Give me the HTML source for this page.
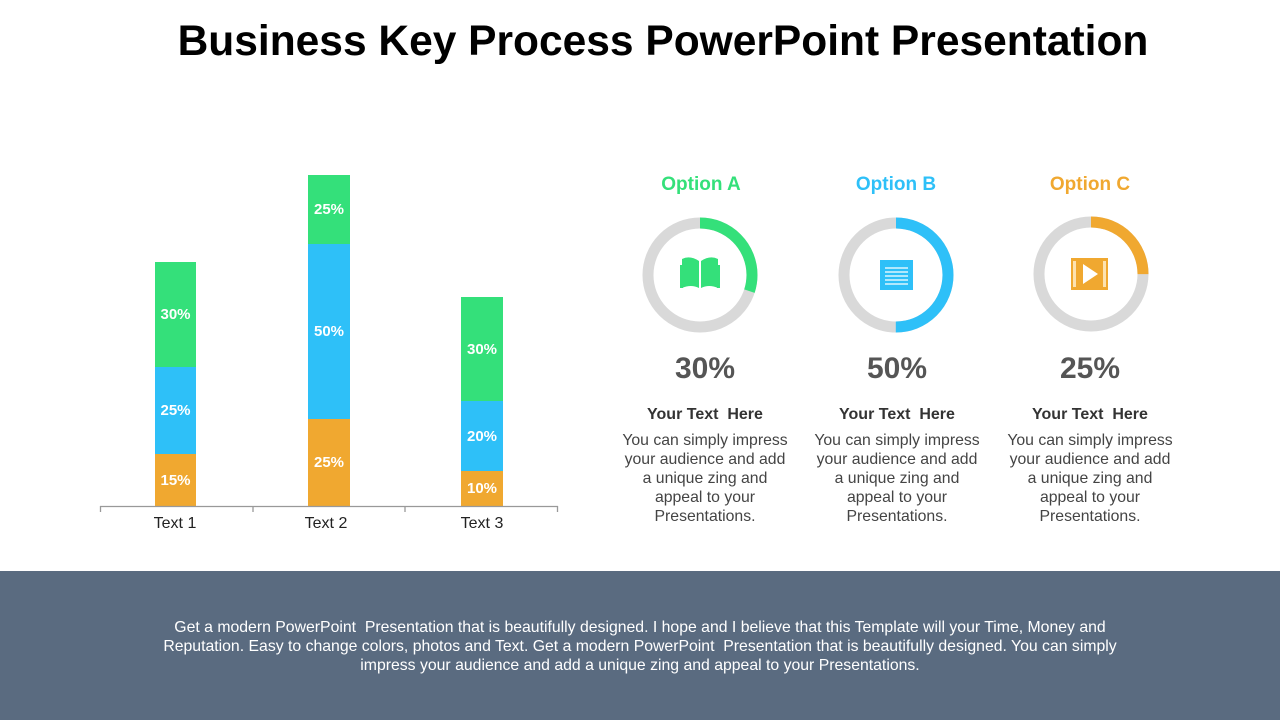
<!DOCTYPE html>
<html><head><meta charset="utf-8"><style>
body{margin:0;width:1280px;height:720px;position:relative;background:#fff;font-family:"Liberation Sans",sans-serif;overflow:hidden}
.a{position:absolute}
.t{left:0;width:1326px;top:18px;text-align:center;font-size:42.5px;font-weight:bold;color:#000}
.bar{position:absolute;color:#fff;font-weight:bold;font-size:15px;display:flex;align-items:center;justify-content:center}
.g{background:#34E07A}.b{background:#2EC0F8}.o{background:#F0A830}
.lab{position:absolute;width:150px;text-align:center;font-size:16px;color:#222}
.opt{position:absolute;width:200px;text-align:center;font-size:19px;font-weight:bold}
.pct{position:absolute;width:200px;text-align:center;font-size:30px;font-weight:bold;color:#555}
.h{position:absolute;width:200px;text-align:center;font-size:16px;font-weight:bold;color:#333}
.d{position:absolute;width:170px;text-align:center;font-size:15.8px;line-height:19px;color:#444}
.foot{left:0;top:571px;width:1280px;height:149px;background:#5A6B80}
.ft{left:145px;width:990px;top:618px;text-align:center;color:#fff;font-size:15.8px;line-height:19px}
</style></head><body>
<div class="a t">Business Key Process PowerPoint Presentation</div>

<div class="bar g" style="left:155px;top:262px;width:41px;height:105px">30%</div>
<div class="bar b" style="left:155px;top:367px;width:41px;height:87px">25%</div>
<div class="bar o" style="left:155px;top:454px;width:41px;height:52px">15%</div>
<div class="bar g" style="left:308px;top:175px;width:42px;height:69px">25%</div>
<div class="bar b" style="left:308px;top:244px;width:42px;height:175px">50%</div>
<div class="bar o" style="left:308px;top:419px;width:42px;height:87px">25%</div>
<div class="bar g" style="left:461px;top:297px;width:42px;height:104px">30%</div>
<div class="bar b" style="left:461px;top:401px;width:42px;height:70px">20%</div>
<div class="bar o" style="left:461px;top:471px;width:42px;height:35px">10%</div>
<svg class="a" style="left:0;top:0" width="600" height="560">
<line x1="100" y1="506.5" x2="558" y2="506.5" stroke="#999" stroke-width="1.3"/>
<g stroke="#999" stroke-width="1.3"><line x1="100.5" y1="506" x2="100.5" y2="512"/><line x1="253" y1="506" x2="253" y2="512"/><line x1="405" y1="506" x2="405" y2="512"/><line x1="557.5" y1="506" x2="557.5" y2="512"/></g>
</svg>
<div class="lab" style="left:100px;top:515px">Text 1</div>
<div class="lab" style="left:251px;top:515px">Text 2</div>
<div class="lab" style="left:407px;top:515px">Text 3</div>

<svg class="a" style="left:0;top:0" width="1280" height="560">
<g fill="none" stroke-width="11">
<circle cx="700" cy="275" r="52" stroke="#D9D9D9"/>
<circle cx="700" cy="275" r="52" stroke="#34E07A" stroke-dasharray="98 400" transform="rotate(-90 700 275)"/>
<circle cx="896" cy="275" r="52" stroke="#D9D9D9"/>
<circle cx="896" cy="275" r="52" stroke="#2EC0F8" stroke-dasharray="163.4 400" transform="rotate(-90 896 275)"/>
<circle cx="1091" cy="274" r="52" stroke="#D9D9D9"/>
<circle cx="1091" cy="274" r="52" stroke="#F0A830" stroke-dasharray="81.7 400" transform="rotate(-90 1091 274)"/>
</g>
<path d="M682 259 q8-4 17 2 v27 q-8-4-17 0z M701 261 q9-6 17-2 v29 q-9-4-17 0z" fill="#34E07A"/>
<rect x="680" y="265" width="3" height="23" fill="#34E07A"/><rect x="717" y="265" width="3" height="23" fill="#34E07A"/>
<rect x="880" y="260" width="33" height="30" fill="#2EC0F8"/>
<g stroke="#fff" stroke-width="1.3"><line x1="885" y1="268" x2="908" y2="268"/><line x1="885" y1="272" x2="908" y2="272"/><line x1="885" y1="276" x2="908" y2="276"/><line x1="885" y1="280" x2="908" y2="280"/><line x1="885" y1="284" x2="908" y2="284"/></g>
<rect x="1071" y="258" width="37" height="32" fill="#F0A830"/>
<polygon points="1083,264 1083,284 1098,274" fill="#fff"/>
<g fill="#fde2b0"><rect x="1073" y="261" width="3" height="26"/><rect x="1103" y="261" width="3" height="26"/></g>
</svg>

<div class="opt" style="left:601px;top:174px;color:#34E07A">Option A</div>
<div class="opt" style="left:796px;top:174px;color:#2EC0F8">Option B</div>
<div class="opt" style="left:990px;top:174px;color:#F0A830">Option C</div>
<div class="pct" style="left:605px;top:352px">30%</div>
<div class="pct" style="left:797px;top:352px">50%</div>
<div class="pct" style="left:990px;top:352px">25%</div>
<div class="h" style="left:605px;top:406px">Your Text&nbsp; Here</div>
<div class="h" style="left:797px;top:406px">Your Text&nbsp; Here</div>
<div class="h" style="left:990px;top:406px">Your Text&nbsp; Here</div>
<div class="d" style="left:620px;top:431px">You can simply impress your audience and add a unique zing and appeal to your Presentations.</div>
<div class="d" style="left:812px;top:431px">You can simply impress your audience and add a unique zing and appeal to your Presentations.</div>
<div class="d" style="left:1005px;top:431px">You can simply impress your audience and add a unique zing and appeal to your Presentations.</div>

<div class="a foot"></div>
<div class="a ft">Get a modern PowerPoint&nbsp; Presentation that is beautifully designed. I hope and I believe that this Template will your Time, Money and Reputation. Easy to change colors, photos and Text. Get a modern PowerPoint&nbsp; Presentation that is beautifully designed. You can simply impress your audience and add a unique zing and appeal to your Presentations.</div>
</body></html>
